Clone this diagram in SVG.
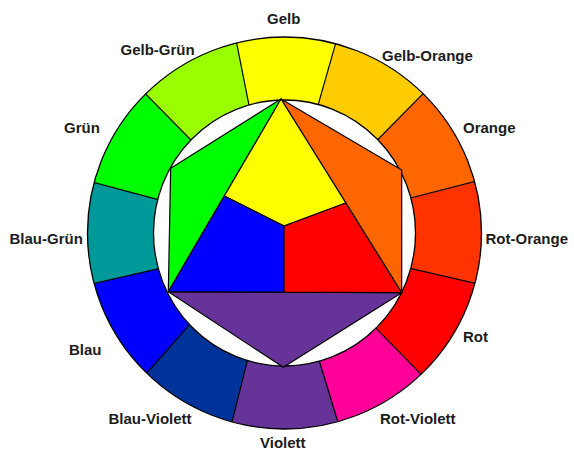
<svg xmlns="http://www.w3.org/2000/svg" width="574" height="450" viewBox="0 0 574 450">
<style>
.seg{stroke:none}
.bnd{stroke:#000;stroke-width:1.2;fill:none}
.edge{stroke:#000;stroke-width:1.3}
.in{stroke:#000;stroke-width:1.2;stroke-linejoin:round}
.lbl{font-family:"Liberation Sans",Arial,sans-serif;font-weight:bold;font-size:15px;fill:#1c1c1c}
</style>
<defs>
<clipPath id="outerClip"><ellipse cx="284.5" cy="233" rx="197" ry="196"/></clipPath>
</defs>
<rect width="574" height="450" fill="#fff"/>
<g clip-path="url(#outerClip)">
<g id="gelb"><polygon class="seg" fill="#FFFF00" points="251.8,119.2 233.2,25.8 340.6,26.1 314.4,117.9"/></g>
<g id="gelb-orange"><polygon class="seg" fill="#FFCC00" points="314.4,117.9 340.6,26.1 434.2,82.3 367.5,150"/></g>
<g id="orange"><polygon class="seg" fill="#FF6600" points="367.5,150 434.2,82.3 492.6,177 395,202"/></g>
<g id="rot-orange"><polygon class="seg" fill="#FF3300" points="395,202 492.6,177 494.5,287.8 390.5,263.8"/></g>
<g id="rot"><polygon class="seg" fill="#FF0000" points="390.5,263.8 494.5,287.8 433.6,387.2 364.8,316.8"/></g>
<g id="rot-violett"><polygon class="seg" fill="#FF0099" points="364.8,316.8 433.6,387.2 343.8,441.3 314.5,345.3"/></g>
<g id="violett"><polygon class="seg" fill="#663399" points="314.5,345.3 343.8,441.3 227.2,441.3 251.2,345.3"/></g>
<g id="blau-violett"><polygon class="seg" fill="#003399" points="251.2,345.3 227.2,441.3 134.2,387.5 200.8,311.8"/></g>
<g id="blau"><polygon class="seg" fill="#0000FF" points="200.8,311.8 134.2,387.5 75.5,287.8 179.5,263.8"/></g>
<g id="blau-gruen"><polygon class="seg" fill="#009999" points="179.5,263.8 75.5,287.8 76.3,177.7 176,204.3"/></g>
<g id="gruen"><polygon class="seg" fill="#00FF00" points="176,204.3 76.3,177.7 135.2,83.3 201.8,151"/></g>
<g id="gelb-gruen"><polygon class="seg" fill="#99FF00" points="201.8,151 135.2,83.3 233.2,25.8 251.8,119.2"/></g>
<g id="connectors">
<line class="bnd" x1="314.4" y1="117.9" x2="340.6" y2="26.1"/>
<line class="bnd" x1="367.5" y1="150" x2="434.2" y2="82.3"/>
<line class="bnd" x1="395" y1="202" x2="492.6" y2="177"/>
<line class="bnd" x1="390.5" y1="263.8" x2="494.5" y2="287.8"/>
<line class="bnd" x1="364.8" y1="316.8" x2="433.6" y2="387.2"/>
<line class="bnd" x1="314.5" y1="345.3" x2="343.8" y2="441.3"/>
<line class="bnd" x1="251.2" y1="345.3" x2="227.2" y2="441.3"/>
<line class="bnd" x1="200.8" y1="311.8" x2="134.2" y2="387.5"/>
<line class="bnd" x1="179.5" y1="263.8" x2="75.5" y2="287.8"/>
<line class="bnd" x1="176" y1="204.3" x2="76.3" y2="177.7"/>
<line class="bnd" x1="201.8" y1="151" x2="135.2" y2="83.3"/>
<line class="bnd" x1="251.8" y1="119.2" x2="233.2" y2="25.8"/>
</g>
</g>
<ellipse class="edge" cx="284.5" cy="233" rx="197" ry="196" fill="none"/>
<ellipse class="edge" cx="284.5" cy="233" rx="131" ry="133" fill="#fff"/>
<g id="inner-gruen"><polygon class="in" fill="#00FF00" points="281,99 170.7,168.3 168.3,291.7"/></g>
<g id="inner-orange"><polygon class="in" fill="#FF6600" points="281,99 401.7,170 401.7,292.7"/></g>
<g id="inner-violett"><polygon class="in" fill="#663399" points="168.3,291.7 401.7,292.7 283.3,367.3"/></g>
<g id="inner-gelb"><polygon class="in" fill="#FFFF00" points="281,99 345.8,203 284,226 224.3,196"/></g>
<g id="inner-blau"><polygon class="in" fill="#0000FF" points="224.3,196 284,226 284,292.2 168.3,291.7"/></g>
<g id="inner-rot"><polygon class="in" fill="#FF0000" points="345.8,203 401.7,292.7 284,292.2 284,226"/></g>
<g id="labels">
<text class="lbl" x="267" y="24">Gelb</text>
<text class="lbl" x="120.5" y="54.5">Gelb-Grün</text>
<text class="lbl" x="382" y="61">Gelb-Orange</text>
<text class="lbl" x="64" y="133.3">Grün</text>
<text class="lbl" x="463" y="133.3">Orange</text>
<text class="lbl" x="9.5" y="244">Blau-Grün</text>
<text class="lbl" x="485.5" y="243.5">Rot-Orange</text>
<text class="lbl" x="69" y="355">Blau</text>
<text class="lbl" x="463" y="341.7">Rot</text>
<text class="lbl" x="108.5" y="424">Blau-Violett</text>
<text class="lbl" x="380" y="424">Rot-Violett</text>
<text class="lbl" x="260" y="447.5">Violett</text>
</g>
</svg>
